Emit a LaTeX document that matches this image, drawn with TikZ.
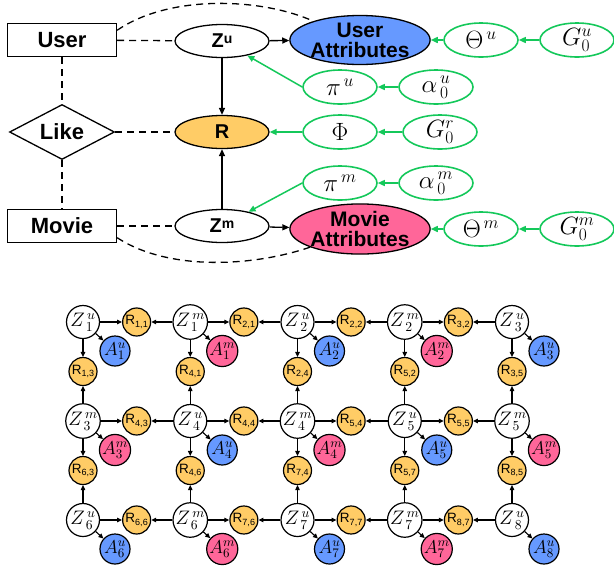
\documentclass[tikz,border=0pt]{standalone}
\usepackage{fix-cm}
\usepackage[no-math]{fontspec}
\setmainfont{Liberation Sans}
\usetikzlibrary{shapes.geometric,arrows.meta}
\definecolor{ublue}{RGB}{102,153,255}
\definecolor{mpink}{RGB}{255,102,153}
\definecolor{rgold}{RGB}{255,204,102}
\definecolor{pgreen}{RGB}{20,200,90}
\newcommand{\supu}[1]{\raisebox{4pt}{\fontsize{14}{14}\selectfont #1}}
\newcommand{\rlab}[1]{{\fontsize{13.5}{13.5}\selectfont R}\raisebox{-2.5pt}{\fontsize{9}{9}\selectfont #1}}
\newcommand{\zlab}[2]{\scalebox{1.15}{$Z^{\,#1}_{\,#2}$}}
\newcommand{\alab}[2]{\scalebox{1.1}{$A^{#1}_{#2}$}}
\begin{document}
\begin{tikzpicture}[x=1pt,y=-1pt,
  ent/.style={draw,line width=1.3pt,minimum width=109pt,minimum height=33pt,inner sep=0pt,font=\fontsize{22}{22}\selectfont\bfseries},
  rel/.style={draw,shape=diamond,aspect=2,line width=1.3pt,minimum width=105pt,minimum height=55pt,inner sep=0pt,font=\fontsize{22}{22}\selectfont\bfseries},
  bell/.style={draw,ellipse,line width=1.3pt,minimum width=94pt,minimum height=33pt,inner sep=0pt,font=\fontsize{20}{20}\selectfont\bfseries},
  attr/.style={draw,ellipse,line width=1.3pt,minimum width=124pt,minimum height=49pt,inner sep=0pt,align=center,font=\fontsize{21}{20}\selectfont\bfseries},
  gell/.style={draw=pgreen,ellipse,line width=1.6pt,minimum width=74pt,minimum height=34pt,inner sep=0pt,font=\fontsize{25}{25}\selectfont},
  darrow/.style={draw,line width=1.3pt,-{Triangle[length=7pt,width=6pt]}},
  garrow/.style={draw=pgreen,line width=1.5pt,-{Triangle[length=7pt,width=6pt]}},
  dline/.style={draw,line width=1.3pt,dash pattern=on 7pt off 5pt},
  zc/.style={draw,circle,line width=1.2pt,minimum size=33pt,inner sep=0pt,fill=white,font=\fontsize{17}{17}\selectfont},
  rc/.style={draw,circle,line width=1.2pt,minimum size=28pt,inner sep=0pt,fill=rgold},
  ac/.style={draw,circle,line width=1.2pt,minimum size=30pt,inner sep=0pt,font=\fontsize{17}{17}\selectfont},
  barrow/.style={draw,line width=1.1pt,-{Triangle[length=5pt,width=4.5pt]}}
]
\useasboundingbox (0,0) rectangle (614,574);

% ---------- top model ----------
\node[ent] (user) at (62,40) {User};
\node[rel] (like) at (62,132) {Like};
\node[ent] (movie) at (62,226) {Movie};

\node[bell] (zu) at (222,41) {Z\supu{u}};
\node[bell,fill=rgold] (r) at (222,132) {R};
\node[bell] (zm) at (222,226) {Z\supu{m}};

\node[attr,fill=ublue] (ua) at (360,40) {User\\Attributes};
\node[attr,fill=mpink] (ma) at (360,229) {Movie\\Attributes};

\node[gell] (thu) at (481,40) {$\Theta^{\,u}$};
\node[gell] (gu) at (577,40) {$G^{u}_{0}$};
\node[gell] (piu) at (340,87) {$\pi^{\,u}$};
\node[gell] (alu) at (436,87) {$\alpha^{\,u}_{\,0}$};
\node[gell] (phi) at (340,132) {$\Phi$};
\node[gell] (gr) at (440,132) {$G^{r}_{0}$};
\node[gell] (pim) at (340,183) {$\pi^{\,m}$};
\node[gell] (alm) at (436,183) {$\alpha^{\,m}_{\,0}$};
\node[gell] (thm) at (481,229) {$\Theta^{\,m}$};
\node[gell] (gm) at (577,229) {$G^{m}_{0}$};

\draw[dline] (user) -- (zu);
\draw[dline] (user) -- (like);
\draw[dline] (like) -- (movie);
\draw[dline] (like) -- (r);
\draw[dline] (movie) -- (zm);
\draw[dline] (user.10) .. controls (170,-6) and (262,-2) .. (ua.158);
\draw[dline] (movie.-12) .. controls (170,272) and (255,266) .. (ma.-160);

\draw[darrow] (zu) -- (ua);
\draw[darrow] (zu) -- (r);
\draw[darrow] (zm) -- (r);
\draw[darrow] (zm) -- (ma);

\draw[garrow] (thu) -- (ua);
\draw[garrow] (gu) -- (thu);
\draw[garrow] (alu) -- (piu);
\draw[garrow] (piu.west) -- (zu);
\draw[garrow] (gr) -- (phi);
\draw[garrow] (phi) -- (r);
\draw[garrow] (alm) -- (pim);
\draw[garrow] (pim.west) -- (zm);
\draw[garrow] (thm) -- (ma);
\draw[garrow] (gm) -- (thm);

% ---------- bottom grid ----------
% row 1
\foreach \t/\i/\col [count=\c] in {u/1/ublue,m/1/mpink,u/2/ublue,m/2/mpink,u/3/ublue}{
  \pgfmathsetmacro{\xx}{83+107.25*(\c-1)}
  \node[zc] (za\c) at (\xx,322) {\zlab{\t}{\i}};
  \node[ac,fill=\col] (aa\c) at (\xx+32,351) {\alab{\t}{\i}};
  \draw[barrow] (za\c) -- (aa\c);
}
% row 2
\foreach \t/\i/\col [count=\c] in {m/3/mpink,u/4/ublue,m/4/mpink,u/5/ublue,m/5/mpink}{
  \pgfmathsetmacro{\xx}{83+107.25*(\c-1)}
  \node[zc] (zb\c) at (\xx,421) {\zlab{\t}{\i}};
  \node[ac,fill=\col] (ab\c) at (\xx+32,450) {\alab{\t}{\i}};
  \draw[barrow] (zb\c) -- (ab\c);
}
% row 3
\foreach \t/\i/\col [count=\c] in {u/6/ublue,m/6/mpink,u/7/ublue,m/7/mpink,u/8/ublue}{
  \pgfmathsetmacro{\xx}{83+107.25*(\c-1)}
  \node[zc] (zc\c) at (\xx,520) {\zlab{\t}{\i}};
  \node[ac,fill=\col] (ac\c) at (\xx+32,549) {\alab{\t}{\i}};
  \draw[barrow] (zc\c) -- (ac\c);
}
% horizontal ratings
\foreach \row/\y/\la/\lb/\lc/\ld in {a/322/{1,1}/{2,1}/{2,2}/{3,2}, b/421/{4,3}/{4,4}/{5,4}/{5,5}, c/520/{6,6}/{7,6}/{7,7}/{8,7}}{
  \foreach \lab [count=\c] in {\la,\lb,\lc,\ld}{
    \pgfmathtruncatemacro{\n}{\c+1}
    \pgfmathsetmacro{\xx}{83+107.25*(\c-0.5)}
    \node[rc] (h\row\c) at (\xx,\y) {\rlab{\lab}};
    \draw[barrow] (z\row\c) -- (h\row\c);
    \draw[barrow] (z\row\n) -- (h\row\c);
  }
}
% vertical ratings
\foreach \lab [count=\c] in {{1,3},{4,1},{2,4},{5,2},{3,5}}{
  \pgfmathsetmacro{\xx}{83+107.25*(\c-1)}
  \node[rc] (va\c) at (\xx,371.5) {\rlab{\lab}};
  \draw[barrow] (za\c) -- (va\c);
  \draw[barrow] (zb\c) -- (va\c);
}
\foreach \lab [count=\c] in {{6,3},{4,6},{7,4},{5,7},{8,5}}{
  \pgfmathsetmacro{\xx}{83+107.25*(\c-1)}
  \node[rc] (vb\c) at (\xx,470.5) {\rlab{\lab}};
  \draw[barrow] (zb\c) -- (vb\c);
  \draw[barrow] (zc\c) -- (vb\c);
}
\end{tikzpicture}
\end{document}
